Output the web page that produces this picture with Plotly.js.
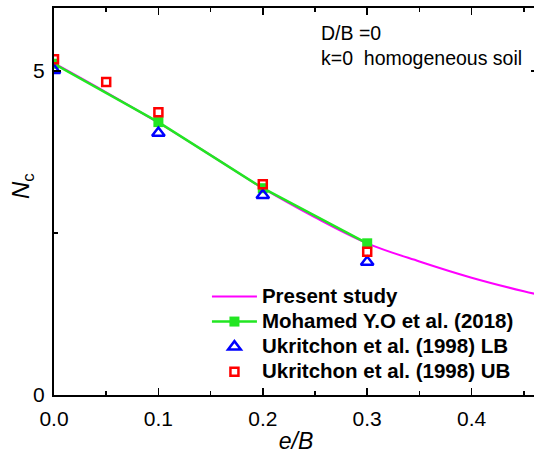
<!DOCTYPE html>
<html><head><meta charset="utf-8">
<script src="https://cdn.plot.ly/plotly-3.0.1.min.js"></script>
<style>html,body{margin:0;padding:0;overflow:hidden;background:#fff;}#plot{width:538px;height:454px;}</style>
</head><body><div id="plot"></div>
<script>
// Present study (continuous curve)
const presentX = [0, 0.05, 0.1, 0.15, 0.2, 0.25, 0.3, 0.35, 0.4, 0.45, 0.4636];
const presentY = [5.12, 4.67, 4.20, 3.70, 3.19, 2.74, 2.34, 2.06, 1.81, 1.60, 1.55];
// Mohamed Y.O et al. (2018)
const mohamedX = [0, 0.1, 0.2, 0.3];
const mohamedY = [5.11, 4.21, 3.19, 2.34];
// Ukritchon et al. (1998) LB
const lbX = [0, 0.1, 0.2, 0.3];
const lbY = [5.01, 4.04, 3.08, 2.05];
// Ukritchon et al. (1998) UB
const ubX = [0, 0.05, 0.1, 0.2, 0.3];
const ubY = [5.18, 4.83, 4.36, 3.25, 2.21];
const seriesNames = ['Present study', 'Mohamed Y.O et al. (2018)', 'Ukritchon et al. (1998) LB', 'Ukritchon et al. (1998) UB'];
const xTickVals = [0, 0.1, 0.2, 0.3, 0.4];
const xTickText = ['0.0', '0.1', '0.2', '0.3', '0.4'];
const yTickVals = [0, 5];
const yTickText = ['0', '5'];

const big = s => '<span style="font-size:20.5px">' + s + '</span>';

const traces = [
  {x: presentX, y: presentY, mode: 'lines', name: big(seriesNames[0]),
   line: {color: '#ff00ff', width: 2, shape: 'spline'}},
  {x: mohamedX, y: mohamedY, mode: 'lines+markers', name: big(seriesNames[1]),
   line: {color: '#22e622', width: 2.5},
   marker: {symbol: 'square', size: 10, color: '#22e622'}},
  {x: lbX, y: lbY, mode: 'markers', name: big(seriesNames[2]),
   marker: {symbol: 'triangle-up-open', size: 11, color: '#0000ff', line: {width: 2.5, color: '#0000ff'}}},
  {x: ubX, y: ubY, mode: 'markers', name: big(seriesNames[3]),
   marker: {symbol: 'square-open', size: 8, color: '#ff0000', line: {width: 2.5, color: '#ff0000'}}}
];

const font = {family: '"Liberation Sans", Arial, sans-serif', color: '#000'};
const layout = {
  width: 538, height: 454,
  margin: {l: 54, r: 0, t: 8, b: 59},
  paper_bgcolor: '#fff', plot_bgcolor: '#fff',
  font: Object.assign({size: 20}, font),
  showlegend: true,
  legend: {x: 0.316, y: 0.30, xanchor: 'left', yanchor: 'top',
    bgcolor: 'rgba(0,0,0,0)', borderwidth: 0,
    font: Object.assign({size: 17, weight: 'bold'}, font),
    tracegroupgap: 0, itemwidth: 45},
  xaxis: {range: [0, 0.4636], tickmode: 'array', tickvals: xTickVals, ticktext: xTickText,
    ticks: 'inside', ticklen: 7, tickwidth: 1.5, tickcolor: '#000',
    minor: {dtick: 0.05, tick0: 0, ticks: 'inside', ticklen: 4, tickwidth: 1.5, tickcolor: '#000'},
    showline: true, linewidth: 2, linecolor: '#000', mirror: 'ticks',
    showgrid: false, zeroline: false,
    tickfont: Object.assign({size: 21}, font), ticklabelstandoff: 4,
    title: {text: '<i>e/B</i>', font: Object.assign({size: 23}, font), standoff: 8}},
  yaxis: {range: [0, 5.97], tickmode: 'array', tickvals: yTickVals, ticktext: yTickText,
    ticks: 'inside', ticklen: 7, tickwidth: 1.5, tickcolor: '#000',
    minor: {dtick: 2.5, tick0: 0, ticks: 'inside', ticklen: 4, tickwidth: 1.5, tickcolor: '#000'},
    showline: true, linewidth: 2, linecolor: '#000', mirror: 'ticks',
    showgrid: false, zeroline: false,
    tickfont: Object.assign({size: 21}, font), ticklabelstandoff: 3},
  annotations: [
    {xref: 'paper', yref: 'paper', x: -0.066, y: 0.54, xanchor: 'center', yanchor: 'middle',
     text: '<i>N</i><sub>c</sub>', textangle: -90, showarrow: false,
     font: Object.assign({size: 24}, font)},
    {xref: 'paper', yref: 'paper', x: 0.548, y: 0.935, xanchor: 'left', yanchor: 'middle',
     text: 'D/B =0', showarrow: false, font: Object.assign({size: 19.5}, font)},
    {xref: 'paper', yref: 'paper', x: 0.548, y: 0.871, xanchor: 'left', yanchor: 'middle',
     text: 'k=0\u00a0 homogeneous soil', showarrow: false, font: Object.assign({size: 19.5}, font)}
  ]
};
Plotly.newPlot('plot', traces, layout, {displayModeBar: false, staticPlot: true});
</script></body></html>
